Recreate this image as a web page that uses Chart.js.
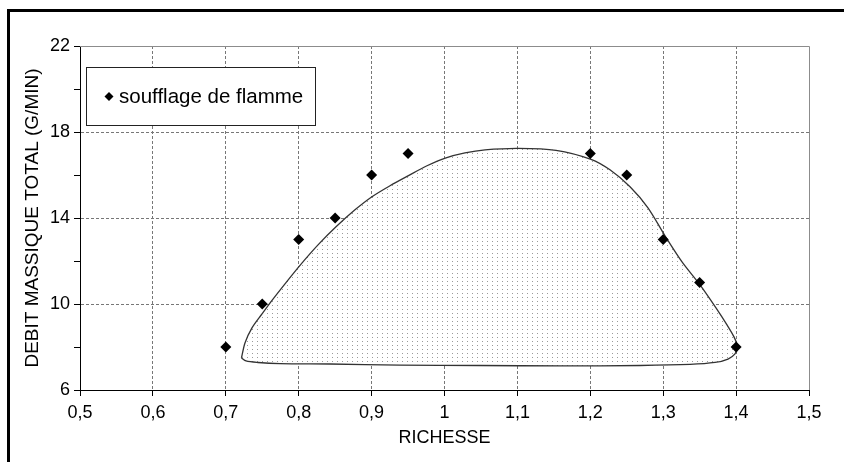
<!DOCTYPE html>
<html>
<head>
<meta charset="utf-8">
<script src="https://cdn.jsdelivr.net/npm/chart.js@4.4.1/dist/chart.umd.min.js"></script>
<style>
  html, body { margin: 0; padding: 0; background: #fff; }
  #wrap { width: 844px; height: 462px; position: relative; }
</style>
</head>
<body>
<div id="wrap"><canvas id="chart"></canvas></div>
<script>
// mesures "soufflage de flamme"
const richesse = [0.7, 0.75, 0.8, 0.85, 0.9, 0.95, 1.2, 1.25, 1.3, 1.35, 1.4];
const debit = [8, 10, 13, 14, 16, 17, 17, 16, 13, 11, 8];

// contour de la zone de stabilite (ferme)
const zoneRichesse = [0.7215, 0.7263, 0.7359, 0.7497, 0.7634, 0.7812, 0.8018, 0.8265, 0.8512,
  0.8772, 0.9005, 0.9252, 0.9499, 0.9760, 1.0021, 1.0281, 1.0556, 1.1008, 1.1530, 1.2010,
  1.2270, 1.2545, 1.2791, 1.3025, 1.3258, 1.3505, 1.3724, 1.3875, 1.3971, 1.4019, 1.3985,
  1.3889, 1.3711, 1.3368, 1.2682, 1.1584, 1.0487, 0.9390, 0.8429, 0.7743, 0.7442, 0.7277,
  0.7215];
const zoneDebit = [7.49, 8.19, 8.89, 9.54, 10.17, 10.94, 11.80, 12.75, 13.59,
  14.38, 14.99, 15.50, 15.96, 16.43, 16.80, 17.03, 17.17, 17.24, 17.15, 16.73,
  16.24, 15.45, 14.47, 13.17, 11.96, 10.89, 9.82, 9.03, 8.47, 8.00, 7.68,
  7.44, 7.28, 7.19, 7.14, 7.12, 7.14, 7.16, 7.21, 7.23, 7.28, 7.35,
  7.49];

const yLabels = [6, 10, 14, 18, 22];
const legendLabel = "soufflage de flamme";

const FONT = "'Liberation Sans', Arial, sans-serif";

function dotPattern() {
  const c = document.createElement("canvas");
  c.width = 5;
  c.height = 4;
  const g = c.getContext("2d");
  g.fillStyle = "#fff";
  g.fillRect(0, 0, 5, 4);
  g.fillStyle = "#9a9a9a";
  g.fillRect(2, 1, 1, 1);
  return g.createPattern(c, "repeat");
}

const framePlugin = {
  id: "frame",
  beforeDraw(chart) {
    const ctx = chart.ctx;
    ctx.save();
    ctx.fillStyle = "#fff";
    ctx.fillRect(0, 0, chart.width, chart.height);
    ctx.fillStyle = "#000";
    ctx.fillRect(7, 9, chart.width - 7, 3);
    ctx.fillRect(7, 9, 3, chart.height - 9);
    ctx.restore();
  },
  beforeDatasetsDraw(chart) {
    const { ctx, chartArea: a } = chart;
    ctx.save();
    ctx.strokeStyle = "#8c8c8c";
    ctx.lineWidth = 1;
    ctx.beginPath();
    ctx.moveTo(a.left, a.top + 0.5);
    ctx.lineTo(a.right + 0.5, a.top + 0.5);
    ctx.lineTo(a.right + 0.5, a.bottom);
    ctx.stroke();
    ctx.restore();
  },
  afterDraw(chart) {
    const ctx = chart.ctx;
    ctx.save();
    ctx.fillStyle = "#fff";
    ctx.fillRect(86, 67, 229, 58);
    ctx.strokeStyle = "#222";
    ctx.lineWidth = 1;
    ctx.strokeRect(86.5, 67.5, 229, 58);
    // marqueur losange
    ctx.fillStyle = "#000";
    ctx.beginPath();
    ctx.moveTo(109, 92);
    ctx.lineTo(113.5, 96.5);
    ctx.lineTo(109, 101);
    ctx.lineTo(104.5, 96.5);
    ctx.closePath();
    ctx.fill();
    ctx.font = "20.5px " + FONT;
    ctx.textBaseline = "middle";
    ctx.fillText(legendLabel, 119, 97);
    ctx.restore();
  }
};

const fmt = (v) => String(Math.round(v * 10) / 10).replace(".", ",");

new Chart(document.getElementById("chart"), {
  type: "scatter",
  data: {
    datasets: [
      {
        label: legendLabel,
        data: richesse.map((x, i) => ({ x: x, y: debit[i] })),
        pointStyle: "rectRot",
        pointRadius: 5.5,
        pointBackgroundColor: "#000",
        pointBorderColor: "#000",
        pointBorderWidth: 0,
        showLine: false,
        order: 0
      },
      {
        label: "zone",
        data: zoneRichesse.map((x, i) => ({ x: x, y: zoneDebit[i] })),
        showLine: true,
        fill: "shape",
        backgroundColor: dotPattern(),
        borderColor: "#333",
        borderWidth: 1.3,
        tension: 0.3,
        pointRadius: 0,
        order: 1
      }
    ]
  },
  options: {
    responsive: true,
    maintainAspectRatio: false,
    animation: false,
    layout: { padding: { top: 46, right: 35, left: 0, bottom: 0 } },
    plugins: {
      legend: { display: false },
      tooltip: { enabled: false }
    },
    scales: {
      x: {
        type: "linear",
        min: 0.5,
        max: 1.5,
        ticks: {
          stepSize: 0.1,
          color: "#000",
          font: { family: FONT, size: 18 },
          padding: 6,
          maxRotation: 0,
          callback: (v) => fmt(v)
        },
        grid: {
          color: (c) => (c.tick && (c.tick.value <= 0.5001 || c.tick.value >= 1.4999) ? "rgba(0,0,0,0)" : "#777"),
          lineWidth: 1,
          tickColor: "#000",
          tickLength: 6
        },
        border: { color: "#000", width: 1, dash: [3, 2] },
        title: {
          display: true,
          text: "RICHESSE",
          color: "#000",
          font: { family: FONT, size: 18 },
          padding: { top: 0, bottom: 13 }
        },
        afterFit: (s) => { s.height = 72; }
      },
      y: {
        min: 6,
        max: 22,
        ticks: {
          stepSize: 2,
          color: "#000",
          font: { family: FONT, size: 18 },
          padding: 4,
          callback: (v) => (yLabels.includes(v) ? String(v) : "")
        },
        grid: {
          color: (c) => {
            const v = c.tick ? c.tick.value : 0;
            return (yLabels.includes(v) && v > 6 && v < 22) ? "#777" : "rgba(0,0,0,0)";
          },
          lineWidth: 1,
          tickColor: "#000",
          tickLength: 6
        },
        border: { color: "#000", width: 1, dash: [3, 2] },
        title: {
          display: true,
          text: "DEBIT MASSIQUE TOTAL (G/MIN)",
          color: "#000",
          font: { family: FONT, size: 19 },
          padding: { top: 21, bottom: 0 }
        },
        afterFit: (s) => { s.width = 80; }
      }
    }
  },
  plugins: [framePlugin]
});
</script>
</body>
</html>
